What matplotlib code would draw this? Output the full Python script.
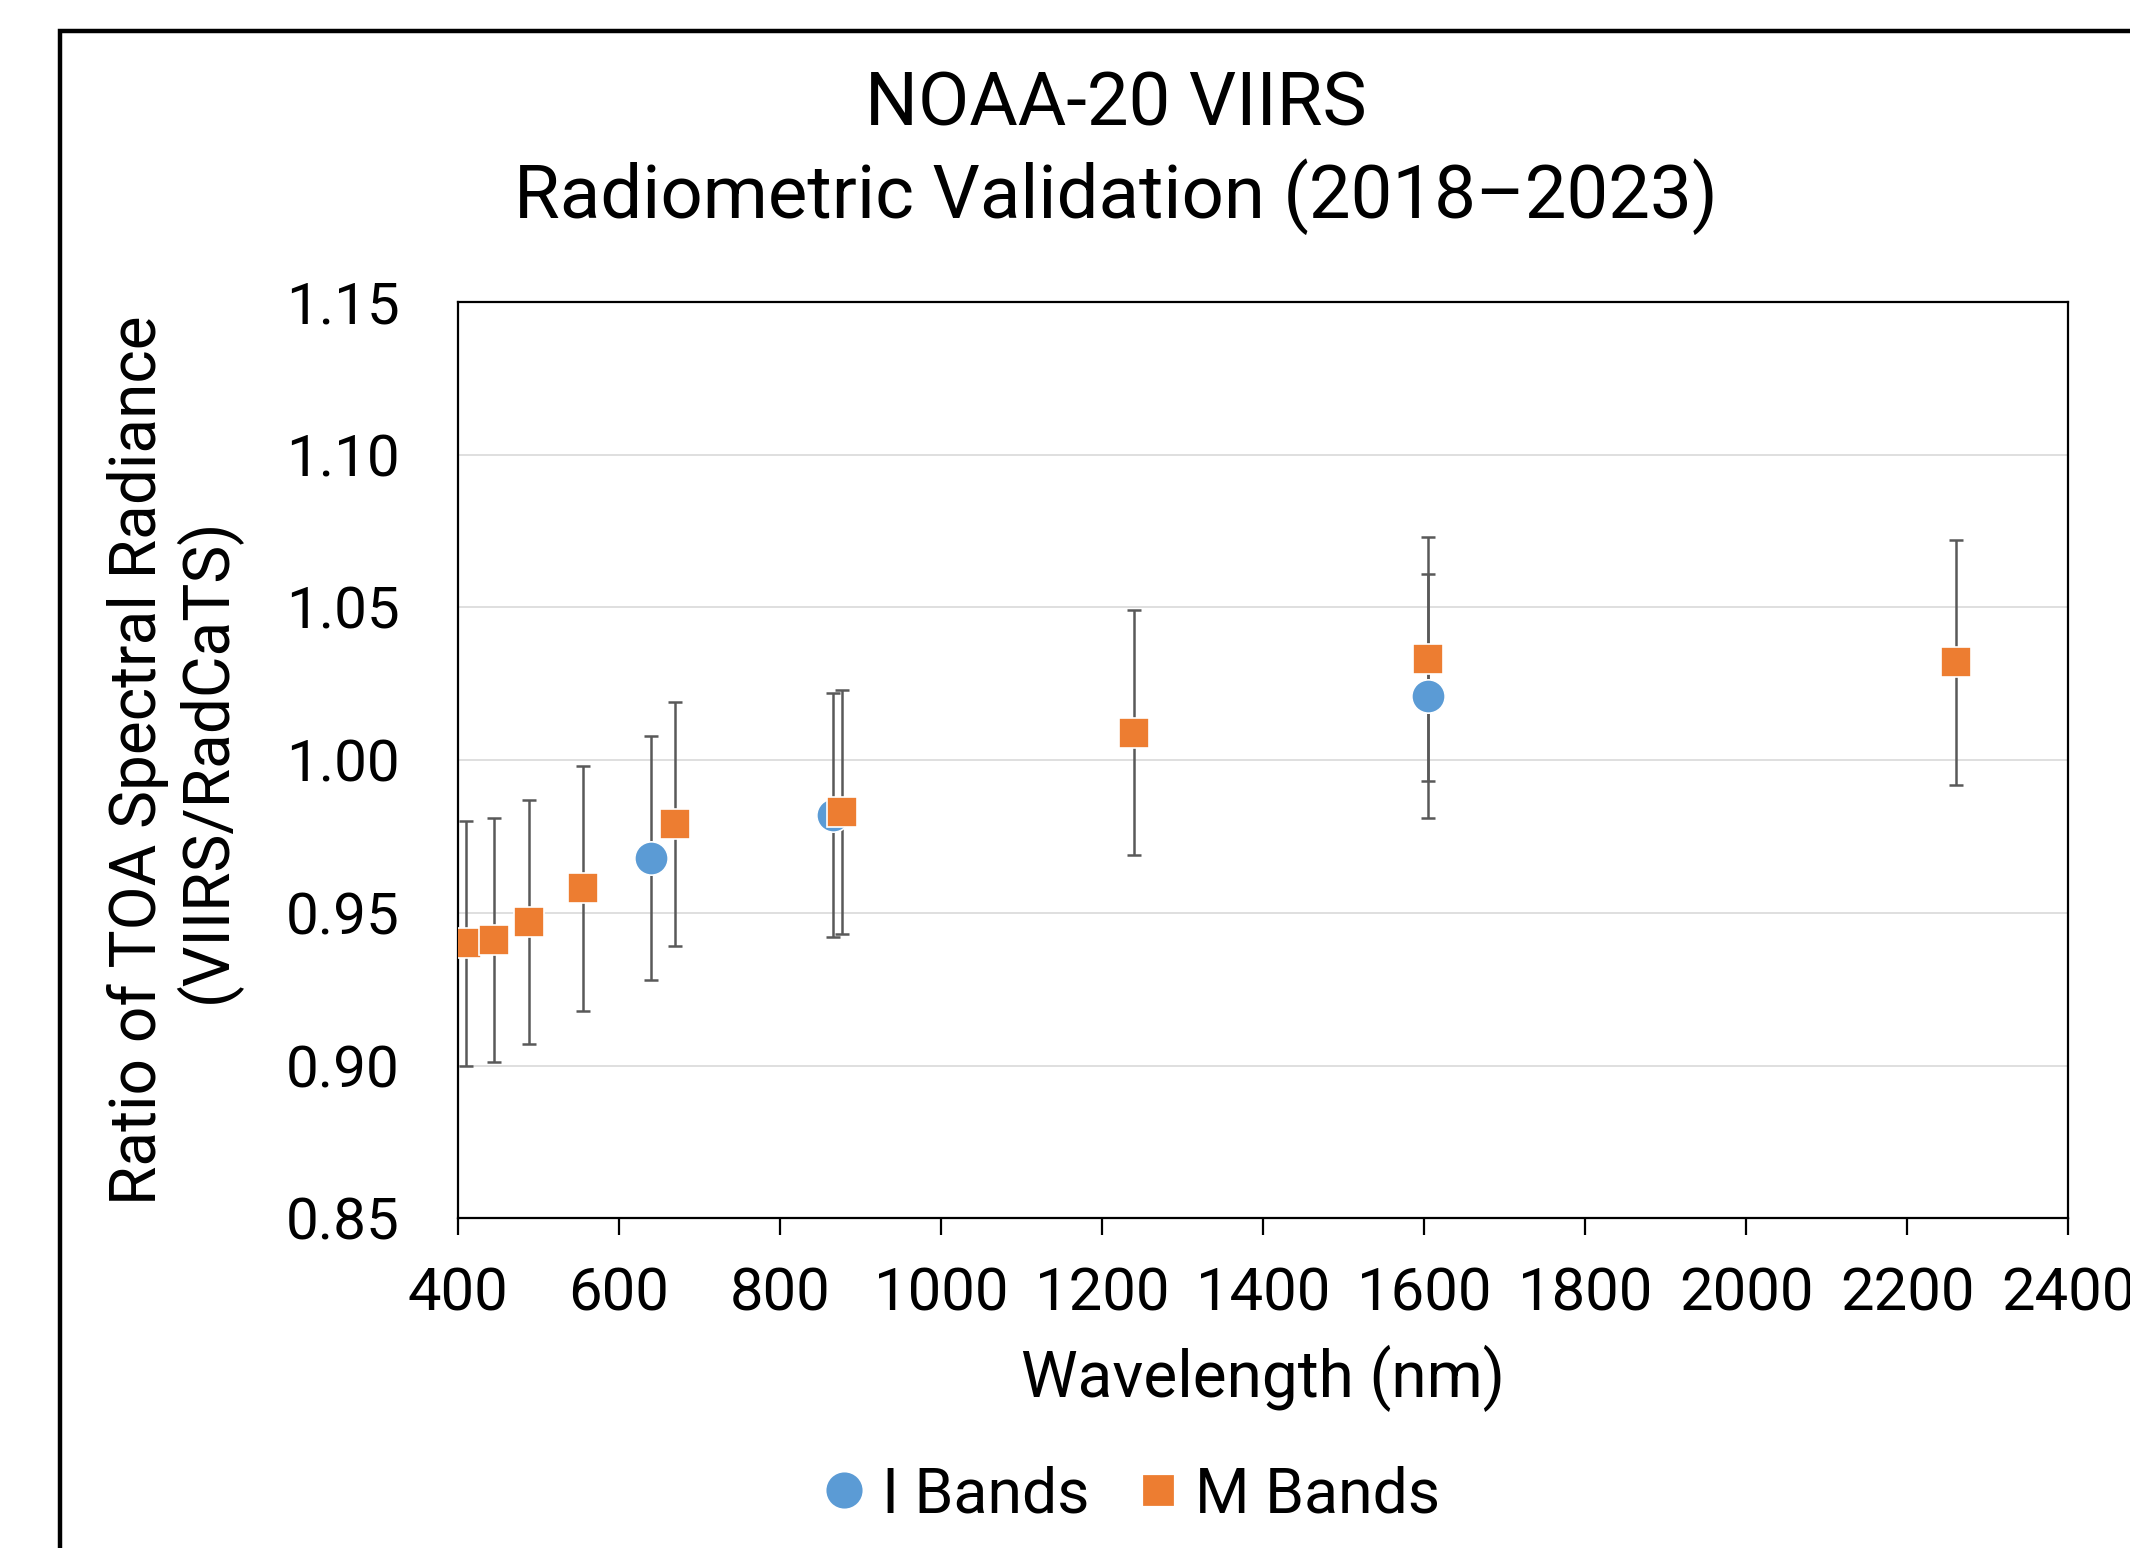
import matplotlib
matplotlib.use("Agg")
import matplotlib.pyplot as plt
from matplotlib.lines import Line2D
from matplotlib.patches import Rectangle

plt.rcParams['font.family'] = ['Roboto', 'DejaVu Sans']

# data
i_wl = [640, 866, 1605]
i_ratio = [0.968, 0.982, 1.021]
i_err = [0.04, 0.04, 0.04]

m_wl = [410, 445, 488, 555, 670, 877, 1240, 1605, 2260]
m_ratio = [0.940, 0.941, 0.947, 0.958, 0.979, 0.983, 1.009, 1.033, 1.032]
m_err = [0.04, 0.04, 0.04, 0.04, 0.04, 0.04, 0.04, 0.04, 0.04]

yticks = [0.85, 0.90, 0.95, 1.00, 1.05, 1.10, 1.15]
xticks = list(range(400, 2401, 200))

blue = '#5B9BD5'
orange = '#ED7D31'
errc = '#595959'

fig = plt.figure(figsize=(10.65, 7.74), dpi=200)
ax = fig.add_axes([0.215, 0.213, 0.756, 0.592])

# chart area border (cropped by the picture edge)
fig.patches.append(Rectangle((60 / 2130, -0.1), 1.2, 1.1 - 31 / 1548,
                             transform=fig.transFigure, fill=False,
                             edgecolor='black', linewidth=1.6, zorder=0))

ax.errorbar(i_wl, i_ratio, yerr=i_err, fmt='none', ecolor=errc,
            elinewidth=0.9, capsize=2.4, capthick=0.9, zorder=2)
ax.errorbar(m_wl, m_ratio, yerr=m_err, fmt='none', ecolor=errc,
            elinewidth=0.9, capsize=2.4, capthick=0.9, zorder=2)
ax.plot(i_wl, i_ratio, 'o', color=blue, ms=12, mec='white', mew=0.6,
        zorder=3, label='I Bands')
ax.plot(m_wl, m_ratio, 's', color=orange, ms=10.5, mec='white', mew=0.6,
        zorder=4, label='M Bands')

ax.set_xlim(400, 2400)
ax.set_ylim(0.85, 1.15)
ax.set_xticks(xticks)
ax.set_yticks(yticks)
ax.set_yticklabels(['%.2f' % v for v in yticks])
ax.yaxis.grid(True, color='#D9D9D9', linewidth=0.6)
ax.set_axisbelow(True)
for s in ax.spines.values():
    s.set_linewidth(0.8)
    s.set_color('black')
ax.tick_params(axis='x', direction='out', length=6, width=0.8,
               labelsize=21.5, pad=11)
ax.tick_params(axis='y', length=0, labelsize=21, pad=21)

ax.set_xlabel('Wavelength (nm)', fontsize=23, labelpad=8)
ax.set_ylabel('Ratio of TOA Spectral Radiance\n(VIIRS/RadCaTS)',
              fontsize=23, labelpad=16, linespacing=1.1)

fig.text(0.524, 1 - 105 / 1548, 'NOAA-20 VIIRS', ha='center', va='center',
         fontsize=26.8)
fig.text(0.524, 1 - 197 / 1548, 'Radiometric Validation (2018\u20132023)',
         ha='center', va='center', fontsize=26.8)

handles = [Line2D([], [], marker='o', color=blue, ls='none', ms=12),
           Line2D([], [], marker='s', color=orange, ls='none', ms=10)]
fig.legend(handles, ['I Bands', 'M Bands'], loc='center',
           bbox_to_anchor=(0.529, 0.034), ncol=2, frameon=False,
           fontsize=22.5, handletextpad=0.1, columnspacing=0.6,
           handlelength=1.0)

fig.savefig('out.png', dpi=200)
